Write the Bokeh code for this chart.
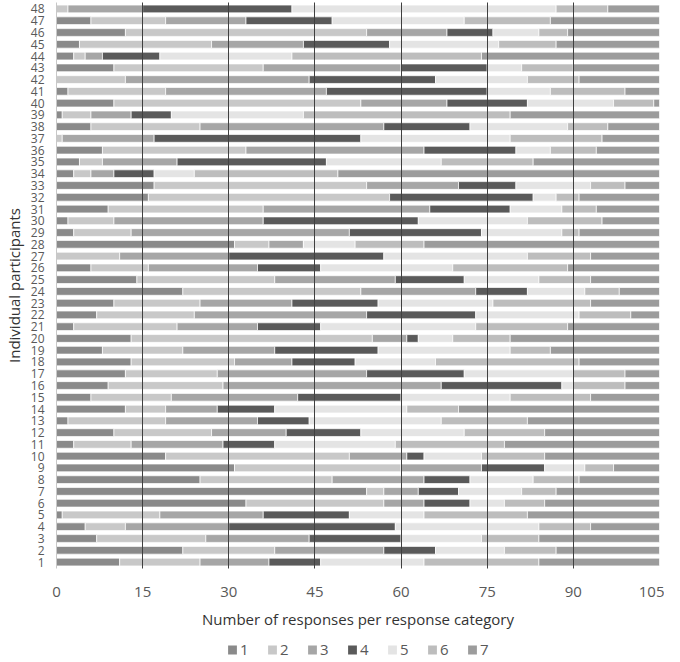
from bokeh.plotting import figure
from bokeh.models import ColumnDataSource, FixedTicker, Range1d, Legend, LegendItem
from bokeh.layouts import column
from bokeh.embed import file_html
from bokeh.resources import INLINE

participants = list(range(1, 49))
categories = ["1", "2", "3", "4", "5", "6", "7"]

cat1 = [11, 22, 7, 5, 1, 33, 54, 25, 31, 19, 3, 10, 2, 12, 6, 9, 12, 13, 8, 13, 3, 7, 10, 22,
        14, 6, 0, 31, 3, 2, 9, 16, 17, 3, 4, 8, 0, 6, 1, 10, 2, 0, 10, 3, 4, 12, 6, 0]
cat2 = [14, 16, 19, 7, 17, 24, 3, 23, 29, 32, 10, 17, 17, 7, 14, 20, 16, 18, 14, 42, 18, 17, 15, 31,
        24, 10, 11, 6, 10, 8, 27, 42, 37, 3, 4, 25, 1, 19, 5, 43, 17, 12, 26, 2, 23, 42, 13, 2]
cat3 = [12, 19, 18, 18, 18, 7, 6, 16, 14, 10, 16, 13, 16, 9, 22, 38, 26, 10, 16, 6, 14, 30, 16, 20,
        21, 19, 19, 6, 38, 26, 29, 0, 16, 4, 13, 31, 16, 32, 7, 15, 28, 32, 24, 3, 16, 14, 14, 13]
cat4 = [9, 9, 16, 29, 15, 8, 7, 8, 11, 3, 9, 13, 9, 10, 18, 21, 17, 11, 18, 2, 11, 19, 15, 9,
        12, 11, 27, 0, 23, 27, 14, 25, 10, 7, 26, 16, 36, 15, 7, 14, 28, 22, 15, 10, 15, 8, 15, 26]
cat5 = [18, 12, 14, 25, 13, 6, 11, 11, 7, 10, 21, 18, 23, 23, 19, 2, 19, 14, 23, 6, 27, 18, 20, 10,
        13, 23, 25, 9, 14, 19, 9, 4, 13, 7, 20, 6, 26, 17, 23, 15, 11, 16, 6, 23, 19, 8, 23, 46]
cat6 = [20, 9, 10, 9, 18, 7, 6, 8, 5, 11, 19, 14, 15, 9, 14, 9, 9, 25, 7, 10, 16, 9, 17, 6,
        9, 20, 11, 12, 3, 13, 6, 4, 6, 25, 16, 8, 16, 7, 36, 7, 13, 9, 9, 33, 10, 5, 15, 9]
cat7 = [21, 18, 21, 12, 23, 20, 18, 14, 8, 20, 27, 20, 23, 35, 12, 6, 6, 14, 19, 26, 16, 5, 12, 7,
        12, 16, 12, 41, 14, 10, 11, 14, 6, 56, 22, 11, 10, 9, 26, 1, 6, 14, 15, 31, 18, 16, 19, 9]

x_ticks = [0, 15, 30, 45, 60, 75, 90, 105]
colors = ["#8a8a8a", "#c8c8c8", "#a6a6a6", "#5a5a5a", "#e4e4e4", "#bdbdbd", "#9c9c9c"]

keys = ["c1", "c2", "c3", "c4", "c5", "c6", "c7"]
src = ColumnDataSource(dict(p=participants, c1=cat1, c2=cat2, c3=cat3, c4=cat4,
                            c5=cat5, c6=cat6, c7=cat7))

FONT = "Open Sans"

p = figure(width=664, height=631, output_backend="svg", toolbar_location=None,
           x_range=Range1d(0, 105), y_range=Range1d(0.45, 48.55),
           min_border_left=47, min_border_right=5, min_border_top=2, min_border_bottom=59)
p.outline_line_color = None
p.background_fill_color = "white"

rs = p.hbar_stack(keys, y="p", height=0.66, color=colors, line_color="white",
                  line_width=0.7, source=src)

# grid
p.ygrid.grid_line_color = None
p.xgrid.ticker = FixedTicker(ticks=x_ticks[1:])
p.xgrid.grid_line_color = "#404040"
p.xgrid.grid_line_width = 1
p.xgrid.level = "overlay"

# x axis
p.xaxis.ticker = FixedTicker(ticks=x_ticks)
p.xaxis.axis_line_color = None
p.xaxis.major_tick_line_color = None
p.xaxis.minor_tick_line_color = None
p.xaxis.major_label_standoff = 12
p.xaxis.major_label_text_font = FONT
p.xaxis.major_label_text_font_size = "15px"
p.xaxis.major_label_text_color = "#595959"
p.xaxis.axis_label = "Number of responses per response category"
p.xaxis.axis_label_text_font = FONT
p.xaxis.axis_label_text_font_size = "15px"
p.xaxis.axis_label_text_font_style = "normal"
p.xaxis.axis_label_text_color = "#333333"
p.xaxis.axis_label_standoff = 9

# y axis
p.yaxis.ticker = FixedTicker(ticks=participants)
p.yaxis.axis_line_color = "#c8c8c8"
p.yaxis.major_tick_line_color = None
p.yaxis.minor_tick_line_color = None
p.yaxis.major_label_standoff = 6
p.yaxis.major_label_text_font = FONT
p.yaxis.major_label_text_font_size = "12px"
p.yaxis.major_label_text_color = "#595959"
p.yaxis.axis_label = "Individual participants"
p.yaxis.axis_label_text_font = FONT
p.yaxis.axis_label_text_font_size = "15px"
p.yaxis.axis_label_text_font_style = "normal"
p.yaxis.axis_label_text_color = "#333333"
p.yaxis.axis_label_standoff = 4

# legend strip: same stacked bars drawn out of view, only the legend shows
lg = figure(width=664, height=28, output_backend="svg", toolbar_location=None,
            x_range=Range1d(0, 105), y_range=Range1d(200, 201),
            x_axis_location=None, y_axis_location=None,
            min_border_left=40, min_border_right=0, min_border_top=0, min_border_bottom=0)
lg.outline_line_color = None
lg.grid.grid_line_color = None
lrs = lg.hbar_stack(keys, y="p", height=0.66, color=colors, line_color=None, source=src)
items = [LegendItem(label=c, renderers=[r]) for c, r in zip(categories, lrs)]
legend = Legend(items=items, orientation="horizontal", location="bottom_center",
                glyph_width=11, glyph_height=11, label_standoff=3, spacing=17,
                label_width=9, padding=0, margin=0, border_line_color=None,
                background_fill_alpha=0,
                label_text_font=FONT, label_text_font_size="15px",
                label_text_color="#595959", label_height=14)
lg.add_layout(legend, "center")

layout = column(p, lg, spacing=0)
open("out.html", "w").write(file_html(layout, INLINE))
